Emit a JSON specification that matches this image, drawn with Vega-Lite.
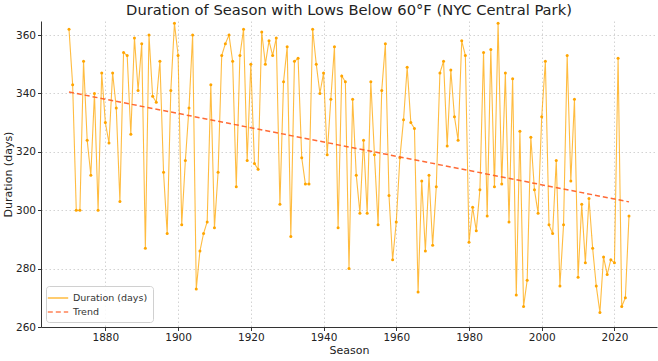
{
  "$schema": "https://vega.github.io/schema/vega-lite/v6.json",
  "width": 616,
  "height": 306,
  "autosize": {"type": "none"},
  "padding": {"left": 41, "top": 21, "right": 1, "bottom": 34},
  "background": "white",
  "title": {
    "text": "Duration of Season with Lows Below 60°F (NYC Central Park)",
    "font": "DejaVu Sans",
    "fontSize": 14.7,
    "fontWeight": "normal",
    "color": "#222222",
    "anchor": "middle",
    "offset": 3
  },
  "config": {
    "view": {"stroke": null},
    "font": "DejaVu Sans",
    "axis": {
      "labelFont": "DejaVu Sans",
      "labelFontSize": 10.5,
      "labelColor": "#222222",
      "titleFont": "DejaVu Sans",
      "titleFontSize": 11,
      "titleFontWeight": "normal",
      "titleColor": "#222222",
      "gridColor": "#c8c8c8",
      "gridDash": [1.5, 2.5],
      "gridWidth": 0.8,
      "domainColor": "#333333",
      "domainWidth": 1,
      "tickColor": "#333333",
      "tickSize": 3.5
    },
    "legend": {
      "orient": "bottom-left",
      "offset": 5,
      "padding": 5,
      "strokeColor": "#d0d0d0",
      "fillColor": "rgba(255,255,255,0.85)",
      "cornerRadius": 3,
      "labelFont": "DejaVu Sans",
      "labelFontSize": 9.5,
      "labelColor": "#333333",
      "symbolType": "M-1.7,0H1.7",
      "symbolSize": 144,
      "symbolStrokeWidth": 1.5,
      "rowPadding": 2,
      "labelOffset": 8
    }
  },
  "data": {
    "values": [
      {"year": 1870, "days": 362}, {"year": 1871, "days": 343}, {"year": 1872, "days": 300}, {"year": 1873, "days": 300},
      {"year": 1874, "days": 351}, {"year": 1875, "days": 324}, {"year": 1876, "days": 312}, {"year": 1877, "days": 340},
      {"year": 1878, "days": 300}, {"year": 1879, "days": 347}, {"year": 1880, "days": 330}, {"year": 1881, "days": 323},
      {"year": 1882, "days": 347}, {"year": 1883, "days": 335}, {"year": 1884, "days": 303}, {"year": 1885, "days": 354},
      {"year": 1886, "days": 353}, {"year": 1887, "days": 326}, {"year": 1888, "days": 359}, {"year": 1889, "days": 341},
      {"year": 1890, "days": 357}, {"year": 1891, "days": 287}, {"year": 1892, "days": 360}, {"year": 1893, "days": 339},
      {"year": 1894, "days": 337}, {"year": 1895, "days": 351}, {"year": 1896, "days": 313}, {"year": 1897, "days": 292},
      {"year": 1898, "days": 341}, {"year": 1899, "days": 364}, {"year": 1900, "days": 353}, {"year": 1901, "days": 295},
      {"year": 1902, "days": 317}, {"year": 1903, "days": 335}, {"year": 1904, "days": 360}, {"year": 1905, "days": 273},
      {"year": 1906, "days": 286}, {"year": 1907, "days": 292}, {"year": 1908, "days": 296}, {"year": 1909, "days": 343},
      {"year": 1910, "days": 294}, {"year": 1911, "days": 313}, {"year": 1912, "days": 353}, {"year": 1913, "days": 357},
      {"year": 1914, "days": 360}, {"year": 1915, "days": 351}, {"year": 1916, "days": 308}, {"year": 1917, "days": 353},
      {"year": 1918, "days": 362}, {"year": 1919, "days": 317}, {"year": 1920, "days": 350}, {"year": 1921, "days": 316},
      {"year": 1922, "days": 314}, {"year": 1923, "days": 361}, {"year": 1924, "days": 350}, {"year": 1925, "days": 358},
      {"year": 1926, "days": 353}, {"year": 1927, "days": 359}, {"year": 1928, "days": 302}, {"year": 1929, "days": 344},
      {"year": 1930, "days": 356}, {"year": 1931, "days": 291}, {"year": 1932, "days": 351}, {"year": 1933, "days": 352},
      {"year": 1934, "days": 318}, {"year": 1935, "days": 309}, {"year": 1936, "days": 309}, {"year": 1937, "days": 362},
      {"year": 1938, "days": 350}, {"year": 1939, "days": 340}, {"year": 1940, "days": 347}, {"year": 1941, "days": 319},
      {"year": 1942, "days": 338}, {"year": 1943, "days": 356}, {"year": 1944, "days": 294}, {"year": 1945, "days": 346},
      {"year": 1946, "days": 344}, {"year": 1947, "days": 280}, {"year": 1948, "days": 338}, {"year": 1949, "days": 312},
      {"year": 1950, "days": 299}, {"year": 1951, "days": 324}, {"year": 1952, "days": 299}, {"year": 1953, "days": 344},
      {"year": 1954, "days": 319}, {"year": 1955, "days": 295}, {"year": 1956, "days": 341}, {"year": 1957, "days": 357},
      {"year": 1958, "days": 305}, {"year": 1959, "days": 283}, {"year": 1960, "days": 296}, {"year": 1961, "days": 318},
      {"year": 1962, "days": 331}, {"year": 1963, "days": 349}, {"year": 1964, "days": 330}, {"year": 1965, "days": 328},
      {"year": 1966, "days": 272}, {"year": 1967, "days": 310}, {"year": 1968, "days": 286}, {"year": 1969, "days": 312},
      {"year": 1970, "days": 288}, {"year": 1971, "days": 308}, {"year": 1972, "days": 347}, {"year": 1973, "days": 351},
      {"year": 1974, "days": 322}, {"year": 1975, "days": 348}, {"year": 1976, "days": 332}, {"year": 1977, "days": 324},
      {"year": 1978, "days": 358}, {"year": 1979, "days": 353}, {"year": 1980, "days": 289}, {"year": 1981, "days": 301},
      {"year": 1982, "days": 293}, {"year": 1983, "days": 307}, {"year": 1984, "days": 354}, {"year": 1985, "days": 298},
      {"year": 1986, "days": 355}, {"year": 1987, "days": 308}, {"year": 1988, "days": 364}, {"year": 1989, "days": 309},
      {"year": 1990, "days": 347}, {"year": 1991, "days": 296}, {"year": 1992, "days": 345}, {"year": 1993, "days": 271},
      {"year": 1994, "days": 327}, {"year": 1995, "days": 267}, {"year": 1996, "days": 276}, {"year": 1997, "days": 325},
      {"year": 1998, "days": 307}, {"year": 1999, "days": 299}, {"year": 2000, "days": 332}, {"year": 2001, "days": 351},
      {"year": 2002, "days": 295}, {"year": 2003, "days": 292}, {"year": 2004, "days": 317}, {"year": 2005, "days": 274},
      {"year": 2006, "days": 295}, {"year": 2007, "days": 353}, {"year": 2008, "days": 310}, {"year": 2009, "days": 338},
      {"year": 2010, "days": 277}, {"year": 2011, "days": 302}, {"year": 2012, "days": 282}, {"year": 2013, "days": 304},
      {"year": 2014, "days": 287}, {"year": 2015, "days": 274}, {"year": 2016, "days": 265}, {"year": 2017, "days": 284},
      {"year": 2018, "days": 278}, {"year": 2019, "days": 283}, {"year": 2020, "days": 282}, {"year": 2021, "days": 352},
      {"year": 2022, "days": 267}, {"year": 2023, "days": 270}, {"year": 2024, "days": 298}
    ]
  },
  "encoding": {
    "x": {
      "field": "year",
      "type": "quantitative",
      "scale": {"domain": [1862.3, 2031.7], "nice": false, "zero": false},
      "axis": {"values": [1880, 1900, 1920, 1940, 1960, 1980, 2000, 2020], "format": "d", "title": "Season", "titlePadding": 1, "labelPadding": 2}
    },
    "y": {
      "field": "days",
      "type": "quantitative",
      "scale": {"domain": [260, 364.8], "nice": false, "zero": false},
      "axis": {"values": [260, 280, 300, 320, 340, 360], "title": "Duration (days)", "titlePadding": 2, "labelPadding": 2}
    }
  },
  "layer": [
    {
      "mark": {
        "type": "line",
        "strokeWidth": 1.1,
        "opacity": 0.75,
        "clip": true,
        "point": {"filled": true, "size": 9, "opacity": 1, "color": "#FFA500"}
      },
      "encoding": {
        "color": {
          "datum": "Duration (days)",
          "type": "nominal",
          "scale": {"domain": ["Duration (days)", "Trend"], "range": ["#FFA500", "#FF5A1F"]},
          "legend": {"title": null}
        },
        "strokeDash": {
          "datum": "Duration (days)",
          "type": "nominal",
          "scale": {"domain": ["Duration (days)", "Trend"], "range": [[1, 0], [5, 3]]},
          "legend": {"title": null}
        }
      }
    },
    {
      "transform": [
        {"regression": "days", "on": "year", "method": "linear", "extent": [1870, 2024]}
      ],
      "mark": {"type": "line", "strokeWidth": 1.5, "opacity": 0.9},
      "encoding": {
        "color": {"datum": "Trend", "type": "nominal"},
        "strokeDash": {"datum": "Trend", "type": "nominal"}
      }
    }
  ]
}
